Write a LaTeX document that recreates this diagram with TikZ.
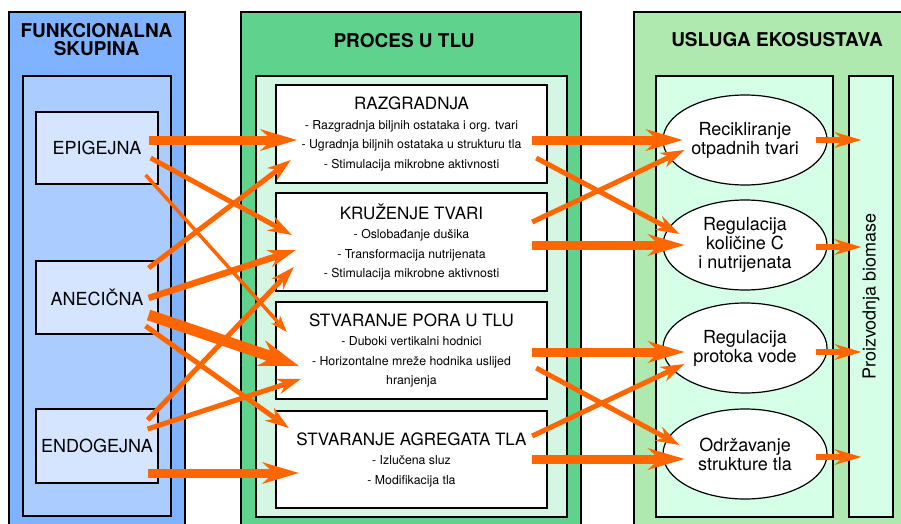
\documentclass[tikz,border=0pt]{standalone}
\usepackage{fontspec}
\setmainfont{TeX Gyre Heros}
\usetikzlibrary{arrows.meta,shapes.geometric,calc}
\definecolor{orn}{HTML}{FF6600}
\definecolor{blueA}{HTML}{80B3FF}
\definecolor{blueB}{HTML}{AACCFF}
\definecolor{blueC}{HTML}{D5E5FF}
\definecolor{grnA}{HTML}{5FD38D}
\definecolor{grnB}{HTML}{D5F6E3}
\definecolor{lgrA}{HTML}{AFE9AF}
\definecolor{lgrB}{HTML}{D5FFE6}
\newcommand{\fTitle}{\bfseries\fontsize{19}{18}\selectfont}
\newcommand{\fLab}{\fontsize{18}{19}\selectfont}
\newcommand{\fProc}{\fontsize{17}{19.5}\selectfont}
\newcommand{\fSub}{\fontsize{12.3}{19.5}\selectfont}
\newcommand{\fEll}{\fontsize{18}{19}\selectfont}
\tikzset{
  colbox/.style={draw, line width=1.6pt, inner sep=0pt},
  innerbox/.style={draw, line width=1.4pt, inner sep=0pt},
  funbox/.style={draw, fill=blueC, line width=1.2pt, inner sep=0pt, minimum width=122pt, font=\fLab},
  procbox/.style={draw, fill=white, line width=2.4pt, inner sep=0pt, minimum width=271pt, align=center, font=\fSub},
  ellbox/.style={ellipse, draw, fill=white, line width=1.2pt, inner sep=0pt, minimum width=164pt, minimum height=90pt, align=center, font=\fEll},
  arrthin/.style={draw=orn, line width=3.5pt, -{Stealth[length=17pt,width=12pt,inset=5pt,line width=0pt]}},
  arrmed/.style={draw=orn, line width=5pt, -{Stealth[length=24pt,width=16pt,inset=8pt,line width=0pt]}},
  arrmt/.style={draw=orn, line width=6.5pt, -{Stealth[length=28pt,width=18pt,inset=9pt,line width=0pt]}},
  arrthick/.style={draw=orn, line width=9pt, -{Stealth[length=37pt,width=22pt,inset=12pt,line width=0pt]}},
  arrxthick/.style={draw=orn, line width=11pt, -{Stealth[length=40pt,width=27pt,inset=13pt,line width=0pt]}},
  arrbio/.style={draw=orn, line width=6pt, -{Stealth[length=27pt,width=16pt,inset=9pt,line width=0pt]}},
}
\begin{document}
\begin{tikzpicture}[x=1pt,y=-1pt]
\useasboundingbox (0,0) rectangle (901,524);
\clip (0,0) rectangle (901,524);
\fill[white] (0,0) rectangle (901,524);
% columns
\node[colbox, fill=blueA, minimum width=176pt, minimum height=528pt] (colL) at (97,276) {};
\node[colbox, fill=grnA, minimum width=340pt, minimum height=528pt] (colM) at (411,276) {};
\node[colbox, fill=lgrA, minimum width=276pt, minimum height=528pt] (colR) at (772,276) {};
\node[innerbox, fill=blueB, minimum width=148pt, minimum height=440pt] (inL) at (97,296) {};
\node[innerbox, fill=grnB, minimum width=311pt, minimum height=441pt] (inM) at (411.5,296.5) {};
\node[innerbox, fill=lgrB, minimum width=177pt, minimum height=441pt] (inR) at (744.5,296.5) {};
\node[innerbox, fill=lgrB, minimum width=44pt, minimum height=441pt] (bio) at (871,296.5) {};
% titles
\node[font=\fTitle, align=center] (tL) at (96.5,40) {FUNKCIONALNA\\SKUPINA};
\node[font=\fTitle, anchor=base] (tM) at (404,48) {PROCES U TLU};
\node[font=\fTitle, anchor=base] (tR) at (777,47) {USLUGA EKOSUSTAVA};
% functional groups
\node[funbox, minimum height=72pt] (epi) at (97,148) {EPIGEJNA};
\node[funbox, minimum height=73pt] (anec) at (97,297.5) {ANECIČNA};
\node[funbox, minimum height=74pt] (endo) at (97,446) {ENDOGEJNA};
% processes
\node[procbox, minimum height=98pt] (raz) at (411.5,134) {{\fProc RAZGRADNJA}\\- Razgradnja biljnih ostataka i org. tvari\\- Ugradnja biljnih ostataka u strukturu tla\\- Stimulacija mikrobne aktivnosti};
\node[procbox, minimum height=98pt] (kru) at (411.5,242) {{\fProc KRUŽENJE TVARI}\\- Oslobađanje dušika\\- Transformacija nutrijenata\\- Stimulacija mikrobne aktivnosti};
\node[procbox, minimum height=97pt] (pora) at (411.5,350.5) {{\fProc STVARANJE PORA U TLU}\\- Duboki vertikalni hodnici\\- Horizontalne mreže hodnika uslijed\\hranjenja};
\node[procbox, minimum height=97pt] (agr) at (411.5,459.5) {{\fProc STVARANJE AGREGATA TLA}\\- Izlučena sluz\\- Modifikacija tla};
% services
\node[ellbox] (rec) at (745,140) {Recikliranje\\otpadnih tvari};
\node[ellbox] (regc) at (745,245) {Regulacija\\količine C\\i nutrijenata};
\node[ellbox] (regv) at (745,348) {Regulacija\\protoka vode};
\node[ellbox] (odr) at (745,454) {Održavanje\\strukture tla};
\node[rotate=90, font=\fEll] (biot) at (bio.center) {Proizvodnja biomase};
% arrows: functional group -> process
\draw[arrthick] ($(epi.east)+(-10,-8)$) -- ($(raz.west)+(22,6)$);
\draw[arrmed] ($(epi.east)+(-8,10)$) -- ($(kru.west)+(17,-7)$);
\draw[arrthin] ($(epi.east)+(-13,27)$) -- ($(pora.west)+(12,-18.5)$);
\draw[arrmed] ($(anec.east)+(-10,-29.5)$) -- ($(raz.west)+(16,26)$);
\draw[arrmt] ($(anec.east)+(-10,0.5)$) -- ($(kru.west)+(21,8)$);
\draw[arrxthick] ($(anec.east)+(-10,17.5)$) -- ($(pora.west)+(24,15.5)$);
\draw[arrmed] ($(anec.east)+(-13,28.5)$) -- ($(agr.west)+(14,-31.5)$);
\draw[arrmed] ($(endo.east)+(-11,-26)$) -- ($(kru.west)+(19,25)$);
\draw[arrmed] ($(endo.east)+(-11,-17)$) -- ($(pora.west)+(26,28.5)$);
\draw[arrthick] ($(endo.east)+(-11,27)$) -- ($(agr.west)+(24,13.5)$);
% arrows: process -> service
\draw[arrthick] ($(raz.east)+(-16,6)$) -- ($(rec.west)+(20,0)$);
\draw[arrmed] ($(raz.east)+(-12,24)$) -- ($(regc.west)+(17,-11)$);
\draw[arrmed] ($(kru.east)+(-16,-20)$) -- ($(rec.west)+(22,10)$);
\draw[arrthick] ($(kru.east)+(-16,3)$) -- ($(regc.west)+(22,0)$);
\draw[arrthick] ($(pora.east)+(-16,1.5)$) -- ($(regv.west)+(22,4)$);
\draw[arrmed] ($(pora.east)+(-12,17.5)$) -- ($(odr.west)+(17,-9)$);
\draw[arrmed] ($(agr.east)+(-16,-23.5)$) -- ($(regv.west)+(22,16)$);
\draw[arrthick] ($(agr.east)+(-16,-0.5)$) -- ($(odr.west)+(22,5)$);
% arrows: service -> biomass
\draw[arrbio] ($(rec.east)+(-12,0)$) -- ($(rec.east -| bio.west)+(13,0)$);
\draw[arrbio] ($(regc.east)+(-12,2)$) -- ($(regc.east -| bio.west)+(13,2)$);
\draw[arrbio] ($(regv.east)+(-12,4)$) -- ($(regv.east -| bio.west)+(13,4)$);
\draw[arrbio] ($(odr.east)+(-12,3)$) -- ($(odr.east -| bio.west)+(13,3)$);
\end{tikzpicture}
\end{document}
